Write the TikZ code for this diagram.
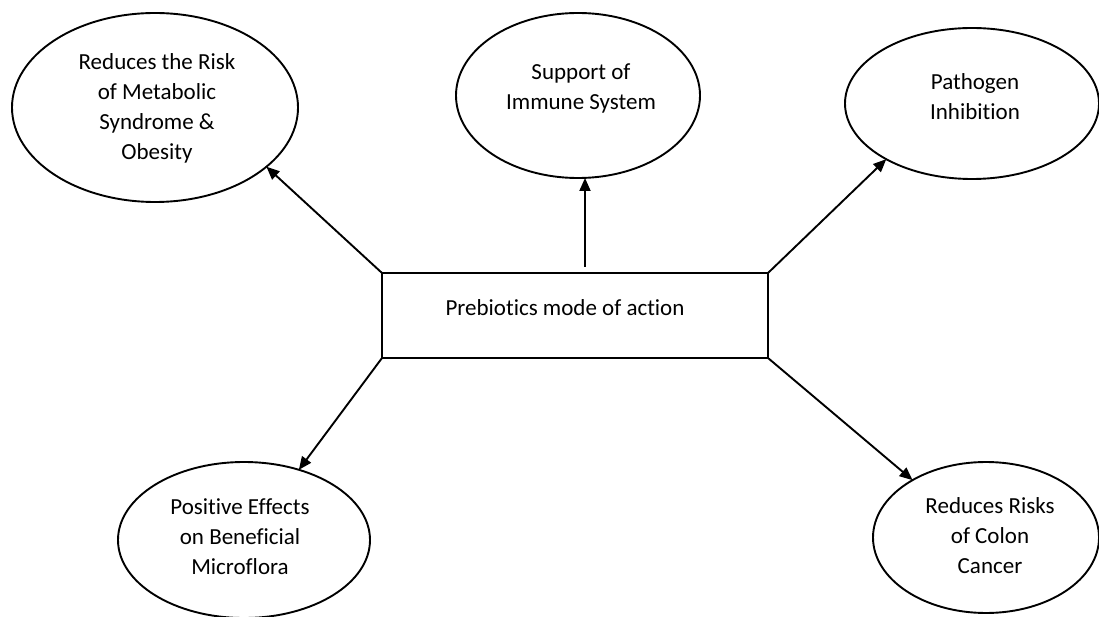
\documentclass[tikz,border=0pt]{standalone}
\usepackage{fontspec}
\setmainfont{Carlito}[Ligatures=CommonOff]
\usetikzlibrary{shapes.geometric,arrows.meta}
\begin{document}
\begin{tikzpicture}[x=1pt,y=-1pt,
  oval/.style={draw, ellipse, line width=1.9pt, inner sep=0pt, outer sep=0pt},
  box/.style={draw, rectangle, line width=1.9pt, inner sep=0pt, outer sep=0pt,
              minimum width=386pt, minimum height=85pt},
  lbl/.style={font=\fontsize{23}{30}\selectfont, align=center, inner sep=0pt},
  arr/.style={line width=1.9pt, -{Triangle[length=13pt,width=11pt]}}]
\useasboundingbox (0,0) rectangle (1099,617);

% ellipses
\node[oval, minimum width=286pt, minimum height=189pt] (e1) at (155,107.5) {};
\node[oval, minimum width=244pt, minimum height=165pt] (e2) at (578,95.5) {};
\node[oval, minimum width=254pt, minimum height=151pt] (e3) at (972,103.5) {};
\node[oval, minimum width=252pt, minimum height=156pt] (e4) at (244,540) {};
\node[oval, minimum width=226pt, minimum height=151pt] (e5) at (986,537.5) {};

% central box
\node[box] (rect) at (575,315.5) {};

% texts
\node[lbl] (t1) at (157,108) {Reduces the Risk\\of Metabolic\\Syndrome \&\\Obesity};
\node[lbl] (t2) at (581,88) {Support of\\Immune System};
\node[lbl] (t3) at (975,97) {Pathogen\\Inhibition};
\node[lbl] (t4) at (240,537) {Positive Effects\\on Beneficial\\Microflora};
\node[lbl] (t5) at (990,536) {Reduces Risks\\of Colon\\Cancer};
\node[lbl] (rt) at (565,308) {Prebiotics mode of action};

% connectors
\draw[arr] (rect.north west) -- (e1.-28);
\draw[arr] ([xshift=10pt,yshift=6pt]rect.north) -- ([xshift=7pt]e2.south);
\draw[arr] (rect.north east) -- (e3.-147);
\draw[arr] (rect.south west) -- (e4.52);
\draw[arr] (rect.south east) -- (e5.142);
\end{tikzpicture}
\end{document}
